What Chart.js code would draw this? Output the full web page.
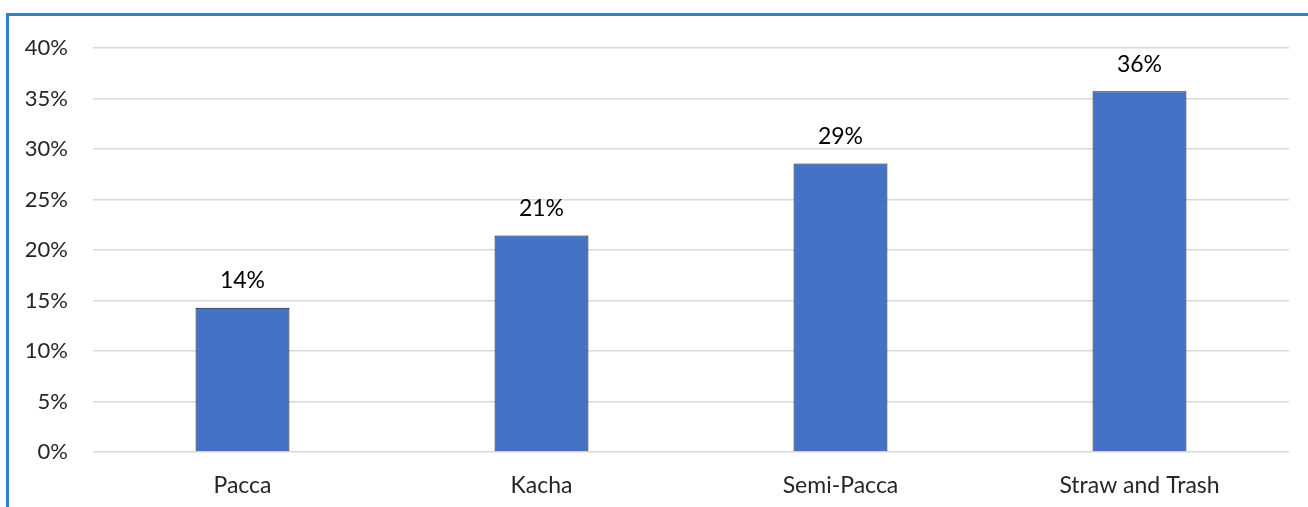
<!DOCTYPE html>
<html>
<head>
<meta charset="utf-8">
<style>
  html, body { margin: 0; padding: 0; background: #ffffff; }
  #wrap { position: relative; width: 1308px; height: 507px; }
  canvas { display: block; }
</style>
<script src="https://cdn.jsdelivr.net/npm/chart.js@4"></script>
</head>
<body>
<div id="wrap"><canvas id="c" width="1308" height="507"></canvas></div>
<script>
const categories = ["Pacca", "Kacha", "Semi-Pacca", "Straw and Trash"];
const shareValues = [14.29, 21.43, 28.57, 35.71];
const yTicks = [0, 5, 10, 15, 20, 25, 30, 35, 40];

const FONT = "Lato, 'Open Sans', sans-serif";

const framePlugin = {
  id: 'frame',
  afterDraw(chart) {
    const ctx = chart.ctx;
    ctx.save();
    ctx.strokeStyle = '#2E84C9';
    ctx.lineWidth = 3;
    ctx.beginPath();
    ctx.moveTo(7.5, 507);
    ctx.lineTo(7.5, 14.5);
    ctx.lineTo(1308, 14.5);
    ctx.stroke();
    ctx.restore();
  }
};

const labelPlugin = {
  id: 'valueLabels',
  afterDatasetsDraw(chart) {
    const ctx = chart.ctx;
    const meta = chart.getDatasetMeta(0);
    ctx.save();
    ctx.font = '23px ' + FONT;
    ctx.fillStyle = '#000000';
    ctx.textAlign = 'center';
    ctx.textBaseline = 'middle';
    meta.data.forEach((bar, i) => {
      ctx.fillText(Math.round(shareValues[i]) + '%', bar.x, bar.y - 27);
    });
    ctx.restore();
  }
};

new Chart(document.getElementById('c'), {
  type: 'bar',
  data: {
    labels: categories,
    datasets: [{
      data: shareValues,
      backgroundColor: '#4472C4',
      borderColor: '#111111',
      borderWidth: 1,
      categoryPercentage: 1,
      barPercentage: 0.314
    }]
  },
  options: {
    responsive: false,
    animation: false,
    layout: { padding: { top: 48, right: 19, left: 0, bottom: 0 } },
    plugins: { legend: { display: false }, tooltip: { enabled: false } },
    scales: {
      x: {
        grid: { display: false, drawTicks: false },
        border: { display: false },
        ticks: { font: { family: FONT, size: 23 }, color: '#262626', padding: 20 },
        afterFit(scale) { scale.height = 55; }
      },
      y: {
        min: 0, max: 40,
        afterBuildTicks(scale) { scale.ticks = yTicks.map(v => ({ value: v })); },
        grid: { color: '#d9d9d9', lineWidth: 1.5, drawTicks: false },
        border: { display: false },
        ticks: {
          font: { family: FONT, size: 22 },
          color: '#262626',
          padding: 25,
          callback: v => v + '%'
        },
        afterFit(scale) { scale.width = 93; }
      }
    }
  },
  plugins: [labelPlugin, framePlugin]
});
</script>
</body>
</html>
